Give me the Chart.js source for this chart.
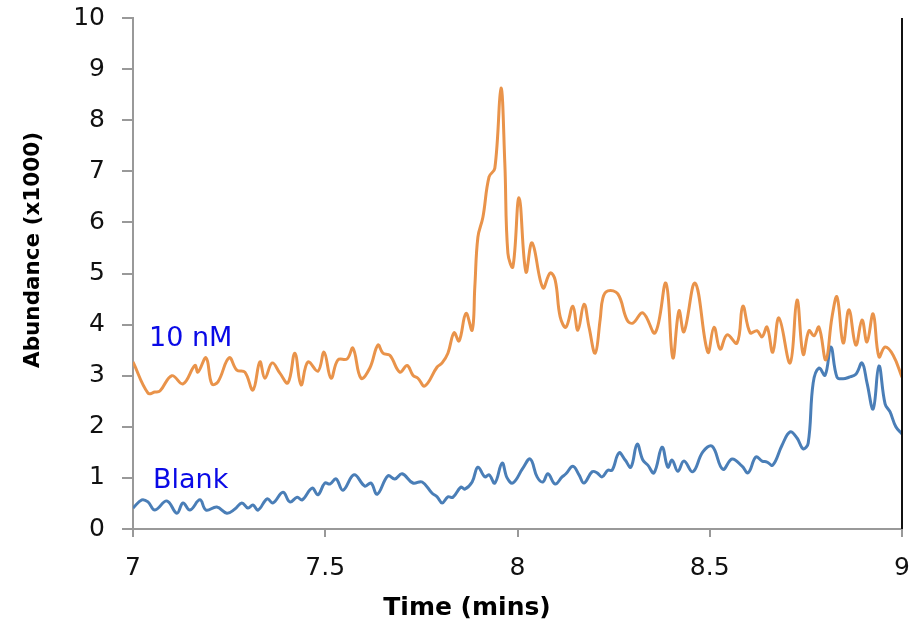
<!DOCTYPE html>
<html>
<head>
<meta charset="utf-8">
<script src="https://cdn.jsdelivr.net/npm/chart.js@4.4.1/dist/chart.umd.min.js"></script>
<style>
    html, body { margin: 0; padding: 0; background: #fff; }
    #wrap { width: 912px; height: 625px; position: relative; }
</style>
</head>
<body>
<div id="wrap"><canvas id="chromChart"></canvas></div>
<script>
// Data (time in mins, abundance x1000)
const timeNM = [7.000, 7.039, 7.057, 7.070, 7.101, 7.130, 7.161, 7.169, 7.190, 7.205, 7.221, 7.250, 7.270, 7.291, 7.312, 7.330, 7.343, 7.362, 7.382, 7.403,
    7.421, 7.437, 7.455, 7.481, 7.497, 7.515, 7.533, 7.557, 7.572, 7.593, 7.616, 7.637, 7.650, 7.668, 7.694, 7.713, 7.728, 7.741, 7.759, 7.791,
    7.804, 7.819, 7.835, 7.848, 7.866, 7.882, 7.889, 7.897, 7.910, 7.926, 7.941, 7.957, 7.967, 7.975, 7.988, 8.004, 8.022, 8.038, 8.066, 8.085,
    8.098, 8.111, 8.126, 8.144, 8.157, 8.173, 8.186, 8.202, 8.215, 8.222, 8.235, 8.261, 8.285, 8.300, 8.326, 8.358, 8.386, 8.404, 8.420, 8.433,
    8.462, 8.495, 8.511, 8.527, 8.545, 8.571, 8.586, 8.605, 8.623, 8.636, 8.649, 8.664, 8.680, 8.709, 8.727, 8.743, 8.758, 8.771, 8.784, 8.802,
    8.818, 8.831, 8.847, 8.862, 8.880, 8.896, 8.909, 8.925, 8.940, 8.956, 8.977, 9.000];
const abundanceNM = [3.27, 2.66, 2.68, 2.70, 3.00, 2.84, 3.20, 3.07, 3.35, 2.84, 2.88, 3.35, 3.11, 3.07, 2.72, 3.27, 2.95, 3.25, 3.05, 2.86,
    3.44, 2.82, 3.27, 3.09, 3.46, 2.95, 3.31, 3.33, 3.54, 2.95, 3.15, 3.60, 3.44, 3.40, 3.07, 3.20, 3.01, 2.95, 2.80, 3.17,
    3.25, 3.44, 3.84, 3.68, 4.22, 3.89, 4.74, 5.71, 6.10, 6.89, 7.06, 8.63, 7.16, 5.40, 5.13, 6.48, 5.03, 5.60, 4.72, 5.01,
    4.87, 4.15, 3.95, 4.36, 3.89, 4.40, 3.95, 3.44, 4.10, 4.52, 4.66, 4.60, 4.09, 4.03, 4.23, 3.84, 4.81, 3.35, 4.27, 3.86,
    4.81, 3.46, 3.95, 3.52, 3.80, 3.64, 4.36, 3.84, 3.88, 3.76, 3.95, 3.46, 4.13, 3.25, 4.48, 3.42, 3.88, 3.78, 3.95, 3.31,
    4.15, 4.54, 3.64, 4.29, 3.60, 4.09, 3.66, 4.21, 3.37, 3.56, 3.40, 2.97];

const timeBlank = [7.000, 7.023, 7.039, 7.057, 7.088, 7.114, 7.130, 7.148, 7.174, 7.190, 7.218, 7.244, 7.265, 7.283, 7.299, 7.312, 7.325, 7.349, 7.364, 7.390,
    7.408, 7.427, 7.440, 7.466, 7.481, 7.499, 7.512, 7.528, 7.546, 7.575, 7.603, 7.619, 7.635, 7.663, 7.681, 7.700, 7.728, 7.752, 7.778, 7.791,
    7.804, 7.819, 7.832, 7.853, 7.863, 7.882, 7.897, 7.915, 7.926, 7.941, 7.960, 7.973, 7.988, 8.014, 8.033, 8.051, 8.066, 8.079, 8.098, 8.116,
    8.126, 8.144, 8.160, 8.173, 8.194, 8.207, 8.220, 8.235, 8.246, 8.264, 8.280, 8.295, 8.311, 8.326, 8.339, 8.355, 8.376, 8.391, 8.402, 8.417,
    8.433, 8.456, 8.482, 8.506, 8.534, 8.558, 8.584, 8.600, 8.620, 8.636, 8.649, 8.664, 8.688, 8.709, 8.727, 8.743, 8.756, 8.769, 8.784, 8.800,
    8.815, 8.831, 8.847, 8.862, 8.880, 8.896, 8.909, 8.925, 8.940, 8.956, 8.969, 8.984, 9.000];
const abundanceBlank = [0.41, 0.57, 0.53, 0.37, 0.55, 0.31, 0.51, 0.37, 0.57, 0.37, 0.43, 0.31, 0.39, 0.51, 0.41, 0.47, 0.37, 0.59, 0.51, 0.72,
    0.53, 0.62, 0.57, 0.80, 0.67, 0.90, 0.88, 0.98, 0.76, 1.06, 0.84, 0.90, 0.68, 1.04, 0.98, 1.08, 0.90, 0.92, 0.70, 0.63,
    0.51, 0.63, 0.62, 0.82, 0.78, 0.92, 1.21, 1.02, 1.06, 0.90, 1.29, 1.00, 0.90, 1.19, 1.37, 1.02, 0.92, 1.08, 0.88, 1.02,
    1.08, 1.23, 1.06, 0.90, 1.12, 1.10, 1.02, 1.15, 1.15, 1.49, 1.35, 1.21, 1.66, 1.35, 1.25, 1.10, 1.60, 1.21, 1.35, 1.13,
    1.33, 1.12, 1.51, 1.62, 1.17, 1.37, 1.23, 1.10, 1.41, 1.33, 1.31, 1.25, 1.64, 1.90, 1.78, 1.57, 1.68, 2.86, 3.15, 3.01,
    3.56, 2.97, 2.94, 2.97, 3.03, 3.25, 2.86, 2.35, 3.19, 2.45, 2.29, 2.00, 1.86];

const xTitle = 'Time (mins)';
const yTitle = 'Abundance (x1000)';
const seriesLabels = ['10 nM', 'Blank'];

function toPoints(xs, ys) {
    return xs.map((x, i) => ({ x: x, y: ys[i] }));
}

// Titles, in-plot labels and the black right border
const decorations = {
    id: 'decorations',
    afterDraw(chart) {
        const { ctx, chartArea } = chart;
        ctx.save();
        ctx.strokeStyle = '#111';
        ctx.lineWidth = 2;
        ctx.beginPath();
        ctx.moveTo(chartArea.right, chartArea.top);
        ctx.lineTo(chartArea.right, chartArea.bottom);
        ctx.stroke();

        ctx.fillStyle = '#000';
        ctx.font = 'bold 25px "DejaVu Sans"';
        ctx.textAlign = 'center';
        ctx.textBaseline = 'alphabetic';
        ctx.fillText(xTitle, 467, 615);

        ctx.save();
        ctx.translate(39, 250);
        ctx.rotate(-Math.PI / 2);
        ctx.font = 'bold 21.5px "DejaVu Sans"';
        ctx.fillText(yTitle, 0, 0);
        ctx.restore();

        ctx.fillStyle = '#0a0ae6';
        ctx.font = '27px "DejaVu Sans"';
        ctx.textAlign = 'left';
        ctx.fillText(seriesLabels[0], 149, 346);
        ctx.fillText(seriesLabels[1], 153, 488);
        ctx.restore();
    }
};

const ctx = document.getElementById('chromChart').getContext('2d');
const chromChart = new Chart(ctx, {
    type: 'line',
    data: {
        datasets: [
            {
                label: seriesLabels[0],
                data: toPoints(timeNM, abundanceNM),
                borderColor: '#E9934A',
                borderWidth: 3,
                pointRadius: 0,
                tension: 0.4,
                fill: false
            },
            {
                label: seriesLabels[1],
                data: toPoints(timeBlank, abundanceBlank),
                borderColor: '#4A7EB7',
                borderWidth: 3,
                pointRadius: 0,
                tension: 0.4,
                fill: false
            }
        ]
    },
    options: {
        responsive: true,
        maintainAspectRatio: false,
        animation: false,
        layout: { padding: { top: 18, right: 10, left: 0, bottom: 0 } },
        plugins: {
            legend: { display: false },
            tooltip: { enabled: false }
        },
        scales: {
            x: {
                type: 'linear',
                min: 7,
                max: 9,
                ticks: {
                    stepSize: 0.5,
                    padding: 16,
                    color: '#111',
                    font: { family: 'DejaVu Sans', size: 25 },
                    callback: (value) => String(value)
                },
                grid: { drawOnChartArea: false, drawTicks: true, tickLength: 8, color: '#999', lineWidth: 2 },
                border: { color: '#999', width: 2 },
                afterFit(scale) {
                    scale.height = 96;
                    scale.paddingLeft = 0;
                    scale.paddingRight = 0;
                }
            },
            y: {
                min: 0,
                max: 10,
                ticks: {
                    stepSize: 1,
                    padding: 17,
                    color: '#111',
                    font: { family: 'DejaVu Sans', size: 25 }
                },
                grid: { drawOnChartArea: false, drawTicks: true, tickLength: 11, color: '#999', lineWidth: 2 },
                border: { color: '#999', width: 2 },
                afterFit(scale) {
                    scale.width = 133;
                    scale.paddingTop = 0;
                    scale.paddingBottom = 0;
                }
            }
        }
    },
    plugins: [decorations]
});
</script>
</body>
</html>
